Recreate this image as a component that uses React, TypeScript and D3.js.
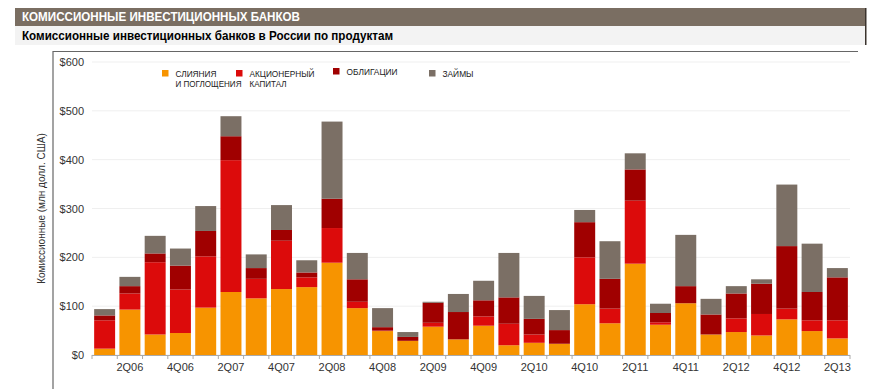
import React from 'react';
import * as d3 from 'd3';

// Quarters 1Q06 .. 2Q13
const quarters = [
  '1Q06', '2Q06', '3Q06', '4Q06', '1Q07', '2Q07', '3Q07', '4Q07',
  '1Q08', '2Q08', '3Q08', '4Q08', '1Q09', '2Q09', '3Q09', '4Q09',
  '1Q10', '2Q10', '3Q10', '4Q10', '1Q11', '2Q11', '3Q11', '4Q11',
  '1Q12', '2Q12', '3Q12', '4Q12', '1Q13', '2Q13',
];

// fees by product, $m
const mna = [13, 93, 42, 45, 97, 129, 116, 135, 139, 189, 96, 49, 29, 58, 32, 60, 20, 25, 23, 104, 65, 187, 62, 106, 42, 47, 40, 73, 49, 34];
const ecm = [58, 33, 148, 89, 105, 270, 40, 99, 20, 71, 13, 1, 0, 8, 0, 19, 44, 17, 0, 96, 30, 129, 5, 0, 0, 28, 44, 22, 22, 37];
const dcm = [10, 15, 18, 49, 52, 49, 22, 22, 10, 60, 46, 7, 8, 41, 56, 33, 54, 32, 28, 72, 61, 64, 19, 35, 41, 51, 62, 128, 58, 88];
const loans = [13, 19, 36, 35, 51, 41, 28, 51, 25, 158, 54, 39, 10, 2, 37, 40, 91, 47, 41, 25, 77, 33, 19, 105, 32, 15, 9, 126, 99, 19];

const yTicks = [0, 100, 200, 300, 400, 500, 600];
const xLabels = ['2Q06', '4Q06', '2Q07', '4Q07', '2Q08', '4Q08', '2Q09', '4Q09', '2Q10', '4Q10', '2Q11', '4Q11', '2Q12', '4Q12', '2Q13'];

const seriesKeys = ['mna', 'ecm', 'dcm', 'loans'];
const colors: Record<string, string> = {
  mna: '#f79400',
  ecm: '#dc0b0b',
  dcm: '#a00000',
  loans: '#7b6f65',
};

// legend labels (two-line where the original wraps)
const legendItems = [
  { key: 'mna', lines: ['СЛИЯНИЯ', 'И ПОГЛОЩЕНИЯ'], widths: [41, 66], x: 165, dy: 0 },
  { key: 'ecm', lines: ['АКЦИОНЕРНЫЙ', 'КАПИТАЛ'], widths: [65, 37], x: 239, dy: 0 },
  { key: 'dcm', lines: ['ОБЛИГАЦИИ'], widths: [51], x: 336, dy: -2 },
  { key: 'loans', lines: ['ЗАЙМЫ'], widths: [31], x: 432, dy: 0 },
];

const W = 878;
const H = 389;
const plot = { left: 92, right: 850, top: 62, bottom: 355 };

const App: React.FC = () => {
  const table = quarters.map((q, i) => ({
    q, mna: mna[i], ecm: ecm[i], dcm: dcm[i], loans: loans[i],
  }));
  const stacked = d3.stack<any>().keys(seriesKeys)(table);

  const x = d3.scaleBand()
    .domain(quarters)
    .range([plot.left, plot.right])
    .paddingInner(0.17)
    .paddingOuter(0.085);

  const y = d3.scaleLinear()
    .domain([0, 600])
    .range([plot.bottom, plot.top]);

  const step = x.step();
  const font = 'Arial, "Liberation Sans", sans-serif';

  return (
    <svg width={W} height={H} style={{ position: 'absolute', left: 0, top: 0, background: '#fff' }}>
      {/* header */}
      <rect x={15} y={8} width={851} height={18} fill="#7a6e62" />
      <rect x={865} y={8} width={1.5} height={37} fill="#3a332d" />
      <text x={22} y={21} fill="#fff" fontFamily={font}
        fontWeight="bold" fontSize={12} textLength={278} lengthAdjust="spacingAndGlyphs">
        КОМИССИОННЫЕ ИНВЕСТИЦИОННЫХ БАНКОВ
      </text>
      <rect x={15} y={26} width={850} height={19} fill="#f3f3f3" />
      <text x={22} y={39.5} fill="#000" fontFamily={font}
        fontWeight="bold" fontSize={12} textLength={371} lengthAdjust="spacingAndGlyphs">
        Комиссионные инвестиционных банков в России по продуктам
      </text>

      {/* chart frame */}
      <line x1={53} x2={858} y1={51.5} y2={51.5} stroke="#666" strokeWidth={1.2} />
      <line x1={53} x2={53} y1={51} y2={389} stroke="#666" strokeWidth={1.2} />

      {/* gridlines */}
      {yTicks.map(t => (
        <line key={'g' + t} x1={plot.left} x2={plot.right} y1={y(t)} y2={y(t)} stroke="#efefef" strokeWidth={1} />
      ))}

      {/* y tick labels */}
      {yTicks.map(t => (
        <text key={'yl' + t} x={84} y={y(t) + 4} textAnchor="end" fontFamily={font} fontSize={11} fill="#333">
          ${t}
        </text>
      ))}

      <text transform={`translate(45,${(plot.top + plot.bottom) / 2}) rotate(-90)`} textAnchor="middle"
        fontFamily={font} fontSize={10} fill="#333">
        Комиссионные (млн долл. США)
      </text>

      {/* bars */}
      {stacked.map(layer => (
        <g key={layer.key} fill={colors[layer.key]}>
          {layer.map((d, i) => (
            <rect key={i}
              x={x(quarters[i])}
              y={y(d[1])}
              width={x.bandwidth()}
              height={Math.max(0, y(d[0]) - y(d[1]))} />
          ))}
        </g>
      ))}

      {/* x axis */}
      <line x1={plot.left} x2={plot.right} y1={plot.bottom + 0.5} y2={plot.bottom + 0.5} stroke="#aaa" />
      {d3.range(quarters.length + 1).map(i => {
        const tx = plot.left + x.paddingOuter() * step + i * step - (x.paddingInner() * step) / 2;
        return <line key={'t' + i} x1={tx} x2={tx} y1={plot.bottom} y2={plot.bottom + 4} stroke="#aaa" />;
      })}
      {xLabels.map(l => (
        <text key={l} x={(x(l) ?? 0) + x.bandwidth() / 2} y={371} textAnchor="middle"
          fontFamily={font} fontSize={11} fill="#333">
          {l}
        </text>
      ))}

      {/* legend */}
      {legendItems.map(it => (
        <g key={it.key}>
          <rect x={it.x - 3} y={70 + it.dy} width={6.5} height={6.5} fill={colors[it.key]} />
          {it.lines.map((ln, j) => (
            <text key={j} x={it.x + 10.5} y={77 + it.dy + j * 10} fontFamily={font} fontSize={9} fill="#222"
              textLength={it.widths[j]} lengthAdjust="spacingAndGlyphs">
              {ln}
            </text>
          ))}
        </g>
      ))}
    </svg>
  );
};

export default App;
